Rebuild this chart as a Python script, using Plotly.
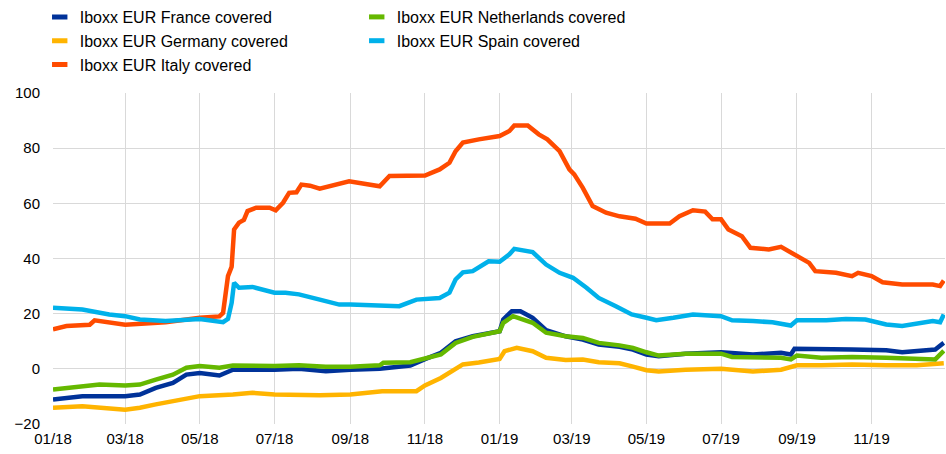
import plotly.graph_objects as go

# ---------------- data ----------------
france_dates = ["2018-01-01","2018-01-25","2018-03-01","2018-03-13","2018-03-26","2018-04-09","2018-04-20",
                "2018-05-01","2018-05-17","2018-05-28","2018-07-01","2018-07-21","2018-08-12","2018-09-01",
                "2018-09-25","2018-10-20","2018-11-01","2018-11-14","2018-11-26","2018-12-10","2019-01-01",
                "2019-01-04","2019-01-11","2019-01-18","2019-01-28","2019-02-08","2019-02-24","2019-03-10",
                "2019-03-23","2019-04-09","2019-04-20","2019-05-01","2019-05-11","2019-06-02","2019-07-01",
                "2019-07-27","2019-08-19","2019-08-27","2019-08-30","2019-09-21","2019-10-16","2019-11-13",
                "2019-11-26","2019-12-23","2019-12-30"]
france_vals = [-11.1,-9.9,-9.9,-9.3,-6.9,-5.1,-2.1,
               -1.5,-2.4,-0.3,-0.3,0.0,-0.9,-0.3,
               0.0,1.2,3.5,5.8,10.0,11.8,13.6,
               17.9,20.9,20.9,18.5,14.0,11.8,10.6,
               8.8,8.0,7.0,5.2,4.6,5.5,6.0,
               5.2,5.8,5.2,7.3,7.0,7.0,6.7,
               6.0,7.0,9.4]

germany_dates = ["2018-01-01","2018-01-25","2018-03-01","2018-03-13","2018-03-26","2018-04-09","2018-04-20",
                 "2018-05-01","2018-05-28","2018-06-13","2018-07-01","2018-08-07","2018-09-01","2018-09-27",
                 "2018-10-25","2018-11-01","2018-11-14","2018-11-26","2018-12-02","2018-12-15","2019-01-01",
                 "2019-01-05","2019-01-15","2019-01-28","2019-02-08","2019-02-24","2019-03-10","2019-03-23",
                 "2019-04-09","2019-04-20","2019-05-01","2019-05-11","2019-06-02","2019-07-01","2019-07-27",
                 "2019-08-19","2019-08-27","2019-09-01","2019-09-21","2019-10-16","2019-11-13","2019-12-08",
                 "2019-12-30"]
germany_vals = [-14.1,-13.6,-14.8,-14.1,-12.9,-11.7,-10.5,
                -9.9,-9.3,-8.7,-9.3,-9.6,-9.3,-8.1,
                -8.1,-6.0,-3.3,-0.3,1.6,2.3,3.6,
                6.4,7.6,6.4,4.0,3.2,3.4,2.4,
                2.0,0.8,-0.5,-1.0,-0.3,0.0,-1.0,
                -0.3,0.8,1.3,1.3,1.6,1.3,1.3,
                2.0]

italy_dates = ["2018-01-01","2018-01-12","2018-01-31","2018-02-04","2018-03-01","2018-04-03","2018-05-01",
               "2018-05-17","2018-05-20","2018-05-24","2018-05-27","2018-05-29","2018-06-02","2018-06-06",
               "2018-06-09","2018-06-16","2018-06-27","2018-07-02","2018-07-08","2018-07-13","2018-07-19",
               "2018-07-23","2018-07-30","2018-08-07","2018-08-31","2018-09-25","2018-10-03","2018-11-01",
               "2018-11-13","2018-11-21","2018-11-26","2018-12-02","2018-12-15","2019-01-01","2019-01-09",
               "2019-01-13","2019-01-24","2019-02-02","2019-02-09","2019-02-19","2019-02-27","2019-03-03",
               "2019-03-10","2019-03-18","2019-03-29","2019-04-09","2019-04-22","2019-05-01","2019-05-20",
               "2019-05-28","2019-06-08","2019-06-18","2019-06-24","2019-07-01","2019-07-07","2019-07-18",
               "2019-07-25","2019-08-09","2019-08-19","2019-09-01","2019-09-11","2019-09-16","2019-10-03",
               "2019-10-16","2019-10-21","2019-11-01","2019-11-10","2019-11-26","2019-12-21","2019-12-27",
               "2019-12-30"]
italy_vals = [14.3,15.5,16.0,17.6,16.0,16.9,18.5,
              19.0,20.3,33.6,37.0,50.5,53.0,54.0,
              57.2,58.4,58.4,57.5,60.2,63.8,64.0,
              66.8,66.4,65.3,68.0,66.2,69.9,70.1,
              72.3,74.7,78.9,82.0,83.2,84.4,86.2,
              88.2,88.2,85.0,83.2,78.9,72.3,70.5,
              65.6,59.0,56.6,55.3,54.4,52.7,52.7,
              55.3,57.5,57.0,54.2,54.2,50.5,48.1,
              43.9,43.3,44.2,40.8,38.4,35.4,34.8,
              33.6,34.8,33.6,31.4,30.6,30.6,30.0,
              32.0]

netherlands_dates = ["2018-01-01","2018-01-25","2018-02-08","2018-03-01","2018-03-13","2018-03-26","2018-04-09",
                     "2018-04-20","2018-05-01","2018-05-17","2018-05-28","2018-07-01","2018-07-21","2018-08-12",
                     "2018-09-01","2018-09-25","2018-09-28","2018-10-20","2018-11-01","2018-11-14","2018-11-26",
                     "2018-12-10","2019-01-01","2019-01-04","2019-01-12","2019-01-28","2019-02-08","2019-02-24",
                     "2019-03-10","2019-03-23","2019-04-09","2019-04-20","2019-05-01","2019-05-11","2019-06-02",
                     "2019-07-01","2019-07-10","2019-07-27","2019-08-19","2019-08-27","2019-09-01","2019-09-21",
                     "2019-10-16","2019-11-13","2019-12-08","2019-12-23","2019-12-30"]
netherlands_vals = [-7.5,-6.3,-5.7,-6.0,-5.7,-3.9,-2.1,
                    0.4,1.0,0.4,1.2,1.0,1.3,0.8,
                    0.8,1.3,2.2,2.4,3.6,5.2,9.4,
                    11.6,13.6,16.7,19.1,16.7,13.1,11.8,
                    11.2,9.4,8.5,7.6,6.0,4.8,5.5,
                    5.5,4.3,4.0,4.0,3.4,4.8,4.0,
                    4.3,4.0,3.6,3.4,6.5]

spain_dates = ["2018-01-01","2018-01-25","2018-02-16","2018-03-01","2018-03-13","2018-04-03","2018-05-01",
               "2018-05-20","2018-05-24","2018-05-27","2018-05-29","2018-06-02","2018-06-13","2018-07-01",
               "2018-07-10","2018-07-21","2018-08-07","2018-08-23","2018-09-01","2018-09-27","2018-10-11",
               "2018-10-25","2018-11-13","2018-11-21","2018-11-26","2018-12-02","2018-12-10","2018-12-23",
               "2019-01-01","2019-01-09","2019-01-13","2019-01-28","2019-02-08","2019-02-19","2019-03-02",
               "2019-03-13","2019-03-23","2019-04-06","2019-04-19","2019-05-01","2019-05-09","2019-05-23",
               "2019-06-08","2019-07-01","2019-07-10","2019-07-27","2019-08-12","2019-08-27","2019-09-01",
               "2019-09-25","2019-10-11","2019-10-27","2019-11-13","2019-11-26","2019-12-21","2019-12-27",
               "2019-12-30"]
spain_vals = [22.1,21.5,19.7,19.1,17.9,17.3,18.1,
              16.9,18.1,23.9,31.2,29.4,29.7,27.6,
              27.6,27.0,25.1,23.3,23.3,23.0,22.7,
              25.1,25.7,27.6,32.4,35.0,35.4,39.0,
              38.8,41.5,43.5,42.3,37.8,34.8,33.0,
              29.4,25.7,22.7,19.7,18.5,17.6,18.5,
              19.7,19.1,17.6,17.3,16.9,15.7,17.6,
              17.6,18.1,17.9,16.1,15.5,17.3,16.9,
              19.7]

series_names = ["Iboxx EUR France covered", "Iboxx EUR Germany covered", "Iboxx EUR Italy covered",
                "Iboxx EUR Netherlands covered", "Iboxx EUR Spain covered"]
series_colors = ["#003299", "#FFB400", "#FF4B00", "#65B800", "#00B1EA"]
series_x = [france_dates, germany_dates, italy_dates, netherlands_dates, spain_dates]
series_y = [france_vals, germany_vals, italy_vals, netherlands_vals, spain_vals]

x_tickvals = ["2018-01-01","2018-03-01","2018-05-01","2018-07-01","2018-09-01","2018-11-01",
              "2019-01-01","2019-03-01","2019-05-01","2019-07-01","2019-09-01","2019-11-01"]
x_ticktext = ["01/18","03/18","05/18","07/18","09/18","11/18",
              "01/19","03/19","05/19","07/19","09/19","11/19"]
y_tickvals = [-20, 0, 20, 40, 60, 80, 100]

# ---------------- figure ----------------
fig = go.Figure()

for name, color, xs, ys in zip(series_names, series_colors, series_x, series_y):
    fig.add_trace(go.Scatter(x=xs, y=ys, mode="lines", name=name, legendgroup=name,
                             showlegend=False, line=dict(color=color, width=4.5),
                             hoverinfo="x+y+name"))

# legend entries (row-wise order: France, Netherlands, Germany, Spain, Italy)
legend_order = [0, 3, 1, 4, 2]
for rank, i in enumerate(legend_order):
    fig.add_trace(go.Scatter(x=[None], y=[None], mode="markers", name=series_names[i],
                             legendgroup=series_names[i], legendrank=rank + 1,
                             marker=dict(symbol="line-ew", size=11, color=series_colors[i],
                                         line=dict(color=series_colors[i], width=6))))

fig.update_layout(
    width=946, height=454,
    margin=dict(l=53, r=1, t=93, b=30),
    paper_bgcolor="white", plot_bgcolor="white",
    font=dict(family="Liberation Sans, Arial, sans-serif", size=15, color="#000000"),
    showlegend=True,
    legend=dict(orientation="h", xref="container", yref="container",
                x=0.042, y=1.0, xanchor="left", yanchor="top",
                font=dict(size=16, color="#000000"),
                entrywidth=272, entrywidthmode="pixels",
                itemwidth=30, tracegroupgap=0, bgcolor="rgba(0,0,0,0)"),
)

fig.update_xaxes(type="date", range=["2018-01-01", "2019-12-31"],
                 tickvals=x_tickvals, ticktext=x_ticktext,
                 showgrid=True, gridcolor="#d9d9d9", gridwidth=1,
                 showline=False, zeroline=False, ticks="", ticklabelstandoff=4)
fig.update_yaxes(range=[-20, 100], tickvals=y_tickvals,
                 showgrid=True, gridcolor="#d9d9d9", gridwidth=1,
                 showline=False, zeroline=False, ticks="", ticklabelstandoff=12)

fig.write_html("out.html", config={"displayModeBar": False},
               post_script="document.body.style.margin='0';document.body.style.overflow='hidden';")
